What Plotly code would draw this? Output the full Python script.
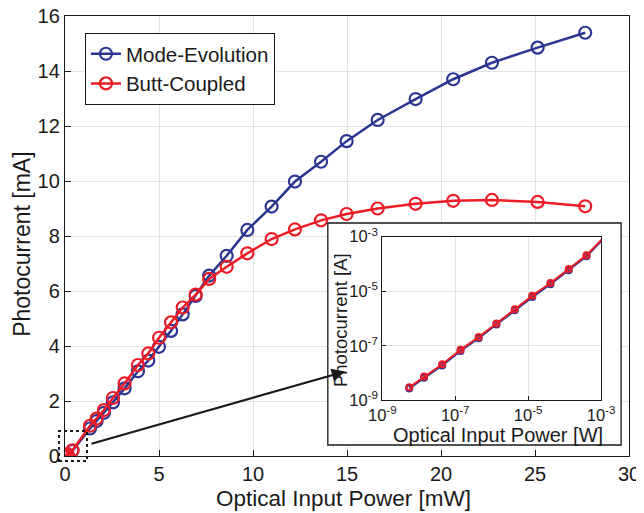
import plotly.graph_objects as go

# optical input power, shared by both devices [mW]
power_mw = [5.5e-6, 1.4e-5, 4.4e-5, 1.4e-4, 4.4e-4, 1.35e-3, 4.3e-3, 1.3e-2, 4.1e-2, 0.13, 0.40,
            1.33, 1.68, 2.07, 2.55, 3.17, 3.88, 4.43, 5.0, 5.64, 6.26, 6.95, 7.67, 8.60,
            9.70, 10.99, 12.23, 13.62, 14.98, 16.63, 18.65, 20.65, 22.71, 25.14, 27.67]

# photocurrent [mA]
mode_evolution = [2.7e-6, 6.7e-6, 1.9e-5, 6.4e-5, 1.9e-4, 6.0e-4, 2.0e-3, 6.1e-3, 1.8e-2, 5.9e-2, 0.19,
                  1.00, 1.27, 1.57, 1.95, 2.46, 3.08, 3.47, 3.97, 4.55, 5.15, 5.82, 6.56, 7.28,
                  8.22, 9.07, 9.98, 10.70, 11.45, 12.22, 12.98, 13.70, 14.30, 14.85, 15.39]
butt_coupled = [3.0e-6, 7.4e-6, 2.1e-5, 7.1e-5, 2.1e-4, 6.6e-4, 2.2e-3, 6.8e-3, 2.0e-2, 6.6e-2, 0.21,
                1.10, 1.36, 1.67, 2.11, 2.64, 3.31, 3.73, 4.30, 4.86, 5.40, 5.87, 6.44, 6.88,
                7.37, 7.89, 8.24, 8.57, 8.80, 9.00, 9.17, 9.28, 9.31, 9.24, 9.08]

series = [("Mode-Evolution", mode_evolution, "#2b3592"),
          ("Butt-Coupled", butt_coupled, "#ec1c26")]

main_xticks = [0, 5, 10, 15, 20, 25, 30]
main_yticks = [0, 2, 4, 6, 8, 10, 12, 14, 16]
log_ticks = [1e-9, 1e-7, 1e-5, 1e-3]
log_ticktext = ["10<sup>-9</sup>", "10<sup>-7</sup>", "10<sup>-5</sup>", "10<sup>-3</sup>"]

FONT = "Liberation Sans, Arial, Helvetica, sans-serif"
INK = "#1a1a1a"

fig = go.Figure()

# main plot
for name, y, color in series:
    fig.add_trace(go.Scatter(x=power_mw, y=y, name=name, mode="lines+markers",
                             line=dict(color=color, width=2.5),
                             marker=dict(symbol="circle-open", size=12, color=color,
                                         line=dict(width=2.2, color=color)),
                             xaxis="x", yaxis="y"))

# empty subplot only used as the white backing of the inset
fig.add_trace(go.Scatter(x=[None], y=[None], showlegend=False, hoverinfo="skip",
                         xaxis="x2", yaxis="y2"))

# inset, log-log in W and A
for name, y, color in series:
    fig.add_trace(go.Scatter(x=[p * 1e-3 for p in power_mw], y=[v * 1e-3 for v in y],
                             mode="lines+markers", showlegend=False,
                             line=dict(color=color, width=2),
                             marker=dict(symbol="circle-open", size=6, color=color,
                                         line=dict(width=2, color=color)),
                             xaxis="x3", yaxis="y3"))

axis_common = dict(showline=True, mirror=True, linecolor=INK, linewidth=1.3,
                   ticks="inside", tickcolor=INK, showgrid=True, gridcolor="#e2e2e2",
                   gridwidth=1, zeroline=False, automargin=False, ticklabeloverflow="allow")

# the page body has an 8px margin, so the figure is 8px smaller than the window
fig.update_layout(
    width=636, height=505,
    margin=dict(l=57, r=15, t=8, b=57),
    paper_bgcolor="white", plot_bgcolor="white",
    font=dict(family=FONT, color=INK),
    xaxis=dict(domain=[0, 1], range=[0, 30], tickvals=main_xticks, ticklen=6,
               tickfont=dict(size=20), **axis_common),
    yaxis=dict(domain=[0, 1], range=[0, 16], tickvals=main_yticks, ticklen=6,
               tickfont=dict(size=20), **axis_common),
    xaxis2=dict(domain=[0.466, 0.986], range=[0, 1], visible=False, anchor="y2"),
    yaxis2=dict(domain=[0.025, 0.5295], range=[0, 1], visible=False, anchor="x2"),
    xaxis3=dict(domain=[0.5626, 0.9504], type="log", range=[-9, -3], anchor="y3",
                tickvals=log_ticks, ticktext=log_ticktext, ticklen=4,
                tickfont=dict(size=16.5), **axis_common),
    yaxis3=dict(domain=[0.1266, 0.4984], type="log", range=[-9, -3], anchor="x3",
                tickvals=log_ticks, ticktext=log_ticktext, ticklen=4,
                tickfont=dict(size=16.5), **axis_common),
    legend=dict(x=0.035, y=0.962, xanchor="left", yanchor="top",
                bgcolor="white", bordercolor=INK, borderwidth=1.2,
                font=dict(size=20.5), tracegroupgap=0),
    showlegend=True,
)

# axis titles
titles = [
    ("Optical Input Power [mW]", 0.493, -0.0955, 0, 22.5),
    ("Photocurrent [mA]", -0.0762, 0.48, -90, 23),
    ("Optical Input Power [W]", 0.768, 0.0477, 0, 20),
    ("Photocurrent [A]", 0.4876, 0.309, -90, 18.5),
]
for text, tx, ty, ang, size in titles:
    fig.add_annotation(text=text, x=tx, y=ty, xref="paper", yref="paper", textangle=ang,
                       showarrow=False, xanchor="center", yanchor="middle",
                       font=dict(size=size, color=INK))

# frame of the inset and the dashed zoom box near the origin
fig.add_shape(type="rect", xref="paper", yref="paper", x0=0.466, x1=0.986, y0=0.025, y1=0.5295,
              line=dict(color=INK, width=1.3), fillcolor="rgba(0,0,0,0)", layer="above")
fig.add_shape(type="rect", xref="paper", yref="paper", x0=-0.0106, x1=0.039, y0=-0.0114, y1=0.0568,
              line=dict(color=INK, width=2, dash="dot"), layer="above")

fig.add_annotation(x=14.89, y=3.07, ax=1.33, ay=0.43, xref="x", yref="y", axref="x", ayref="y",
                   showarrow=True, arrowhead=2, arrowsize=1.2, arrowwidth=2.2, arrowcolor=INK,
                   text="")

fig.write_html("out.html")
